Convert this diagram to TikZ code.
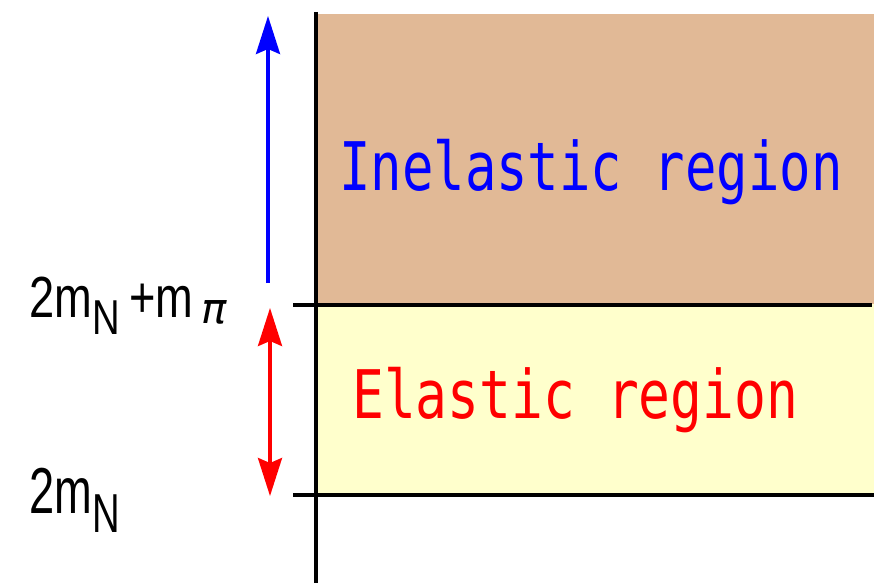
\documentclass[tikz,border=0pt]{standalone}
\usepackage{fontspec}
\setmainfont{Liberation Sans}
\newfontfamily\monof{DejaVu Sans Mono}
\newfontfamily\dvsf{DejaVu Sans}
\usetikzlibrary{arrows.meta}
\definecolor{inelcol}{RGB}{225,185,150}
\definecolor{elcol}{RGB}{255,255,204}
\begin{document}
\begin{tikzpicture}[x=1pt,y=-1pt,
  axisline/.style={line width=4.5pt},
  regtext/.style={inner sep=0pt, anchor=base west, font=\monof\fontsize{67}{67}\selectfont},
  lab/.style={inner sep=0pt, anchor=base west, font=\fontsize{58}{58}\selectfont},
  >={Stealth[length=38pt,width=24pt,inset=5pt]},
  arr/.style={line width=3.5pt}]
\useasboundingbox (0,0) rectangle (877,583);
% regions
\node[fill=inelcol, minimum width=558pt, minimum height=290pt, inner sep=0pt, outer sep=0pt, anchor=north west] (inel) at (316,14) {};
\node[fill=elcol, minimum width=558pt, minimum height=190pt, inner sep=0pt, outer sep=0pt, anchor=north west] (el) at (316,304) {};
% axis and level lines
\coordinate (axtop) at (316,12);
\coordinate (axbot) at (316,583);
\coordinate (l1a) at (293,305);
\coordinate (l1b) at (872,305);
\coordinate (l2a) at (293,495);
\coordinate (l2b) at (874,495);
\draw[axisline] (axtop) -- (axbot);
\draw[axisline] (l1a) -- (l1b);
\draw[axisline] (l2a) -- (l2b);
% arrows
\coordinate (bbot) at (268,283);
\coordinate (btop) at (268,16);
\draw[arr, blue, ->] (bbot) -- (btop);
\coordinate (rtop) at (270,308);
\coordinate (rbot) at (270,496);
\draw[arr, red, <->] (rtop) -- (rbot);
% region texts
\node[regtext, text=blue] (inltxt) at (339,190) {\scalebox{0.78}[1]{Inelastic region}};
\node[regtext, text=red] (eltxt) at (352,418) {\scalebox{0.79}[1]{Elastic region}};
% level labels
\node[lab] (lab1) at (29,317) {\scalebox{0.78}[1]{2m\raisebox{-17pt}{\fontsize{49}{49}\selectfont N}\hspace{12pt}+m}};
\node[inner sep=0pt, anchor=base west, font=\dvsf\itshape\fontsize{42}{42}\selectfont] (pi) at (201,323) {π};
\node[lab] (lab2) at (29,513) {\scalebox{0.78}[1.12]{2m\raisebox{-17pt}{\fontsize{49}{49}\selectfont N}}};
\end{tikzpicture}
\end{document}
